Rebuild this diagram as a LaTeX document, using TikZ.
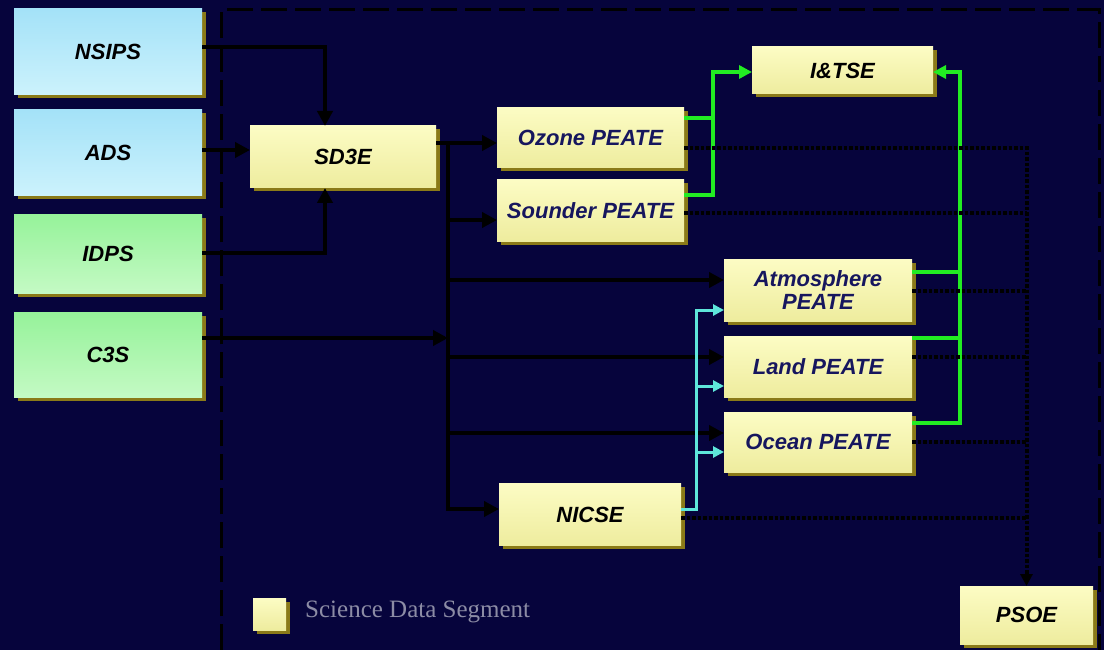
\documentclass[tikz,border=0pt]{standalone}
\usepackage{fontspec}
\setmainfont{Liberation Sans}
\newfontfamily\legendfont{Liberation Serif}
\usetikzlibrary{arrows.meta,shadows,calc}
\definecolor{bg}{RGB}{6,4,60}
\definecolor{ytop}{RGB}{252,252,196}
\definecolor{ybot}{RGB}{238,236,158}
\definecolor{btop}{RGB}{164,226,248}
\definecolor{bbot}{RGB}{204,242,252}
\definecolor{gtop}{RGB}{150,242,154}
\definecolor{gbot}{RGB}{196,250,196}
\definecolor{shadowc}{RGB}{138,122,24}
\definecolor{peatetext}{RGB}{22,22,94}
\definecolor{grn}{RGB}{34,236,34}
\definecolor{cyn}{RGB}{94,230,218}
\definecolor{leggray}{RGB}{140,140,165}
\begin{document}
\begin{tikzpicture}[x=1pt,y=-1pt,
  box/.style={rectangle, inner sep=0pt, outer sep=0pt, align=center,
    font=\fontsize{22}{23}\selectfont\bfseries\itshape,
    drop shadow={shadow xshift=3.5pt, shadow yshift=-3.5pt, fill=shadowc, opacity=1}},
  ybox/.style={box, top color=ytop, bottom color=ybot, text=black},
  pbox/.style={ybox, text=peatetext},
  bbox/.style={box, top color=btop, bottom color=bbot, text=black},
  gbox/.style={box, top color=gtop, bottom color=gbot, text=black},
  blk/.style={draw=black, line width=4pt, -{Triangle[length=15pt,width=15pt]}},
  blkl/.style={draw=black, line width=4pt},
  grnarr/.style={draw=grn, line width=4pt, -{Triangle[length=13pt,width=13pt]}},
  grnl/.style={draw=grn, line width=4pt},
  cynarr/.style={draw=cyn, line width=3pt, -{Triangle[length=11pt,width=11pt]}},
  dotarr/.style={draw=black, line width=4pt, dash pattern=on 3.5pt off 2pt, -{Triangle[length=12pt,width=12pt]}},
  dotl/.style={draw=black, line width=4pt, dash pattern=on 3.5pt off 2pt},
  frame/.style={draw=black, line width=3pt, dash pattern=on 26pt off 8pt}
]
\fill[bg] (0,0) rectangle (1104,650);
\useasboundingbox (0,0) rectangle (1104,650);

% dashed frame
\draw[frame] (221,650) -- (221,10) -- (1099,10) -- (1099,650);

% source boxes
\node[bbox, minimum width=188pt, minimum height=86pt] (nsips) at (108,52) {NSIPS};
\node[bbox, minimum width=188pt, minimum height=86pt] (ads) at (108,153) {ADS};
\node[gbox, minimum width=188pt, minimum height=78pt] (idps) at (108,254) {IDPS};
\node[gbox, minimum width=188pt, minimum height=85pt] (c3s) at (108,355) {C3S};

% segment boxes
\node[ybox, minimum width=186pt, minimum height=62pt] (sd3e) at (343,157) {SD3E};
\node[pbox, minimum width=187pt, minimum height=60pt] (ozone) at (590.5,137.5) {Ozone PEATE};
\node[pbox, minimum width=187pt, minimum height=61pt] (sounder) at (590.5,210.5) {Sounder PEATE};
\node[ybox, minimum width=181pt, minimum height=47pt] (itse) at (842.5,70.5) {I\&TSE};
\node[pbox, minimum width=188pt, minimum height=62pt] (atmos) at (818,290) {Atmosphere\\PEATE};
\node[pbox, minimum width=188pt, minimum height=61pt] (land) at (818,366.5) {Land PEATE};
\node[pbox, minimum width=188pt, minimum height=60pt] (ocean) at (818,442) {Ocean PEATE};
\node[ybox, minimum width=182pt, minimum height=62pt] (nicse) at (590,514.5) {NICSE};
\node[ybox, minimum width=133pt, minimum height=58pt] (psoe) at (1026.5,615) {PSOE};

% legend
\node[ybox, minimum width=33pt, minimum height=32pt] (leg) at (269.5,614) {};
\node[anchor=west, inner sep=0pt, text=leggray, font=\legendfont\fontsize{25}{27}\selectfont] (legt) at (305,612) {Science Data Segment};

% black connectors
\draw[blk] ([yshift=5pt]nsips.east) -| ([xshift=-18pt]sd3e.north);
\coordinate (a0) at ([yshift=3pt]ads.east);
\draw[blk] (a0) -- (a0 -| sd3e.west);
\draw[blk] ([yshift=1pt]idps.east) -| ([xshift=-18pt]sd3e.south);
\coordinate (s0) at ([yshift=14pt]sd3e.east);
\coordinate (bus) at ([xshift=12pt]s0);
\draw[blk] (s0) -- (s0 -| ozone.west);
\coordinate (n-in) at ([yshift=5.5pt]nicse.west);
\draw[blk] (bus) |- (n-in);
\coordinate (c0) at ([yshift=17pt]c3s.east);
\draw[blk] (c0) -- (c0 -| bus);
\coordinate (snd-in) at ([yshift=-9.5pt]sounder.west);
\draw[blk] (bus |- snd-in) -- (snd-in);
\coordinate (atm-in) at ([yshift=10pt]atmos.west);
\draw[blk] (bus |- atm-in) -- (atm-in);
\coordinate (land-in) at ([yshift=9.5pt]land.west);
\draw[blk] (bus |- land-in) -- (land-in);
\coordinate (ocean-in) at ([yshift=9pt]ocean.west);
\draw[blk] (bus |- ocean-in) -- (ocean-in);

% green connectors
\coordinate (oz-g) at ([yshift=19.5pt]ozone.east);
\coordinate (sn-g) at ([yshift=15.5pt]sounder.east);
\coordinate (it-l) at ([yshift=-1.5pt]itse.west);
\coordinate (it-r) at ([yshift=-1.5pt]itse.east);
\draw[grnarr] (sn-g) -- ++(29,0) |- (it-l);
\draw[grnl] (oz-g) -- ++(29,0);
\coordinate (at-g) at ([yshift=18pt]atmos.east);
\coordinate (la-g) at ([yshift=28.5pt]land.east);
\coordinate (oc-g) at ([yshift=19pt]ocean.east);
\draw[grnarr] (oc-g) -- ++(48,0) |- (it-r);
\draw[grnl] (at-g) -- ++(48,0);
\draw[grnl] (la-g) -- ++(48,0);

% cyan connectors
\coordinate (ni-c) at ([yshift=5.5pt]nicse.east);
\coordinate (at-c) at ([yshift=-20pt]atmos.west);
\coordinate (la-c) at ([yshift=-19.5pt]land.west);
\coordinate (oc-c) at ([yshift=-10pt]ocean.west);
\draw[cynarr] (ni-c) -- ++(15,0) coordinate (cb) |- (at-c);
\draw[cynarr] (cb |- la-c) -- (la-c);
\draw[cynarr] (cb |- oc-c) -- (oc-c);

% dotted connectors to PSOE
\coordinate (oz-d) at ([yshift=-10.5pt]ozone.east);
\coordinate (sn-d) at ([yshift=-2.5pt]sounder.east);
\coordinate (at-d) at ([yshift=-1pt]atmos.east);
\coordinate (la-d) at ([yshift=9.5pt]land.east);
\coordinate (oc-d) at (ocean.east);
\coordinate (ni-d) at ([yshift=-3.5pt]nicse.east);
\draw[dotarr] (oz-d) -| (psoe.north);
\draw[dotl] (sn-d) -- (sn-d -| psoe.north);
\draw[dotl] (at-d) -- (at-d -| psoe.north);
\draw[dotl] (la-d) -- (la-d -| psoe.north);
\draw[dotl] (oc-d) -- (oc-d -| psoe.north);
\draw[dotl] (ni-d) -- (ni-d -| psoe.north);
\end{tikzpicture}
\end{document}
